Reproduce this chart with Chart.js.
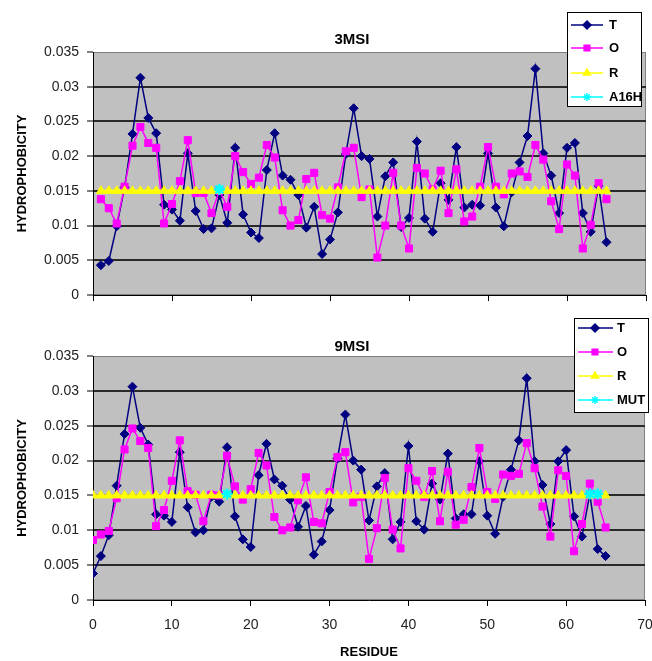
<!DOCTYPE html>
<html><head><meta charset="utf-8">
<script src="https://cdn.jsdelivr.net/npm/chart.js@4.4.0/dist/chart.umd.min.js"></script>
<style>
html,body{margin:0;padding:0;background:#fff;}
#wrap{position:relative;width:652px;height:661px;overflow:hidden;background:#fff;}
canvas{position:absolute;left:0;}
</style></head><body>
<div id="wrap">
<canvas id="c1" width="652" height="310" style="top:0;width:652px;height:310px"></canvas>
<canvas id="c2" width="652" height="351" style="top:310px;width:652px;height:351px"></canvas>
</div>
<script>
// ---------- data ----------
const residuesTop = [1,2,3,4,5,6,7,8,9,10,11,12,13,14,15,16,17,18,19,20,21,22,23,24,25,26,27,28,29,30,31,32,33,34,35,36,37,38,39,40,41,42,43,44,45,46,47,48,49,50,51,52,53,54,55,56,57,58,59,60,61,62,63,64,65];
const topT = [0.0043,0.0049,0.0099,0.0155,0.0232,0.0313,0.0255,0.0233,0.0130,0.0123,0.0107,0.0204,0.0121,0.0095,0.0096,0.0144,0.0104,0.0212,0.0116,0.0090,0.0082,0.0180,0.0233,0.0172,0.0166,0.0144,0.0097,0.0127,0.0059,0.0080,0.0119,0.0203,0.0269,0.0200,0.0196,0.0113,0.0171,0.0191,0.0098,0.0111,0.0221,0.0110,0.0091,0.0161,0.0137,0.0213,0.0126,0.0130,0.0129,0.0204,0.0126,0.0099,0.0148,0.0191,0.0229,0.0326,0.0204,0.0172,0.0118,0.0212,0.0219,0.0118,0.0091,0.0157,0.0076];
const topO = [0.0138,0.0125,0.0103,0.0156,0.0215,0.0242,0.0219,0.0212,0.0103,0.0131,0.0164,0.0223,0.0147,0.0147,0.0118,0.0150,0.0127,0.0200,0.0177,0.0160,0.0169,0.0216,0.0198,0.0122,0.0100,0.0108,0.0167,0.0176,0.0115,0.0110,0.0155,0.0207,0.0212,0.0141,0.0152,0.0054,0.0100,0.0176,0.0100,0.0067,0.0183,0.0175,0.0152,0.0179,0.0118,0.0181,0.0106,0.0113,0.0156,0.0213,0.0156,0.0145,0.0175,0.0178,0.0170,0.0216,0.0195,0.0135,0.0095,0.0188,0.0172,0.0067,0.0101,0.0161,0.0138];
const topR = [0.015,0.015,0.015,0.015,0.015,0.015,0.015,0.015,0.015,0.015,0.015,0.015,0.015,0.015,0.015,0.015,0.015,0.015,0.015,0.015,0.015,0.015,0.015,0.015,0.015,0.015,0.015,0.015,0.015,0.015,0.015,0.015,0.015,0.015,0.015,0.015,0.015,0.015,0.015,0.015,0.015,0.015,0.015,0.015,0.015,0.015,0.015,0.015,0.015,0.015,0.015,0.015,0.015,0.015,0.015,0.015,0.015,0.015,0.015,0.015,0.015,0.015,0.015,0.015,0.015];
const topMutResidues = [16];
const topMut = [0.0152];

const residuesBottom = [0,1,2,3,4,5,6,7,8,9,10,11,12,13,14,15,16,17,18,19,20,21,22,23,24,25,26,27,28,29,30,31,32,33,34,35,36,37,38,39,40,41,42,43,44,45,46,47,48,49,50,51,52,53,54,55,56,57,58,59,60,61,62,63,64,65];
const botT = [0.0038,0.0063,0.0093,0.0164,0.0238,0.0306,0.0247,0.0223,0.0123,0.0121,0.0112,0.0212,0.0133,0.0097,0.0100,0.0148,0.0141,0.0219,0.0120,0.0087,0.0076,0.0179,0.0224,0.0173,0.0164,0.0144,0.0105,0.0135,0.0065,0.0084,0.0129,0.0203,0.0266,0.0200,0.0187,0.0114,0.0163,0.0182,0.0087,0.0112,0.0221,0.0113,0.0101,0.0167,0.0144,0.0210,0.0117,0.0123,0.0123,0.0199,0.0121,0.0095,0.0148,0.0187,0.0229,0.0318,0.0199,0.0165,0.0109,0.0199,0.0215,0.0120,0.0091,0.0152,0.0073,0.0063];
const botO = [0.0086,0.0094,0.0099,0.0146,0.0216,0.0246,0.0228,0.0218,0.0106,0.0129,0.0171,0.0229,0.0156,0.0151,0.0113,0.0151,0.0150,0.0207,0.0163,0.0144,0.0159,0.0211,0.0193,0.0119,0.0100,0.0104,0.0143,0.0176,0.0112,0.0110,0.0155,0.0205,0.0212,0.0140,0.0148,0.0059,0.0103,0.0175,0.0101,0.0074,0.0189,0.0171,0.0148,0.0185,0.0113,0.0184,0.0108,0.0115,0.0162,0.0218,0.0155,0.0145,0.0180,0.0178,0.0181,0.0225,0.0189,0.0134,0.0091,0.0186,0.0178,0.0070,0.0109,0.0167,0.0141,0.0104];
const botR = [0.015,0.015,0.015,0.015,0.015,0.015,0.015,0.015,0.015,0.015,0.015,0.015,0.015,0.015,0.015,0.015,0.015,0.015,0.015,0.015,0.015,0.015,0.015,0.015,0.015,0.015,0.015,0.015,0.015,0.015,0.015,0.015,0.015,0.015,0.015,0.015,0.015,0.015,0.015,0.015,0.015,0.015,0.015,0.015,0.015,0.015,0.015,0.015,0.015,0.015,0.015,0.015,0.015,0.015,0.015,0.015,0.015,0.015,0.015,0.015,0.015,0.015,0.015,0.015,0.015,0.015];
const botMutResidues = [17,63,64];
const botMut = [0.0152,0.0152,0.0152];

const yTickValues = [0,0.005,0.01,0.015,0.02,0.025,0.03,0.035];
const yTickLabels = ['0','0.005','0.01','0.015','0.02','0.025','0.03','0.035'];
const xTickValues = [0,10,20,30,40,50,60,70];
const xTickLabels = ['0','10','20','30','40','50','60','70'];

const titleTop = '3MSI';
const titleBottom = '9MSI';
const legendTop = ['T','O','R','A16H'];
const legendBottom = ['T','O','R','MUT'];
const yTitle = 'HYDROPHOBICITY';
const xTitle = 'RESIDUE';

// ---------- styling ----------
const FONT = '"Liberation Sans", Arial, Helvetica, sans-serif';
Chart.defaults.font.family = FONT;
Chart.defaults.color = '#222';

const seriesStyle = [
  {color:'#000080', pointStyle:'rectRot', radius:4.5, lw:1.5, pbw:1, order:4},
  {color:'#ff00ff', pointStyle:'rect', radius:5, lw:1.5, pbw:1, order:3},
  {color:'#ffff00', pointStyle:'triangle', radius:5, lw:2.5, pbw:1, order:2},
  {color:'#00ffff', pointStyle:'star', radius:5.5, lw:1.5, pbw:2.5, order:1}
];

function pts(xs, ys){ return xs.map((x,i)=>({x:x, y:ys[i]})); }

function makeDatasets(names, seriesX, seriesY){
  return names.map((n,i)=>{
    const s = seriesStyle[i];
    return {
      label:n, data:pts(seriesX[i], seriesY[i]),
      borderColor:s.color, backgroundColor:s.color,
      borderWidth:s.lw, pointStyle:s.pointStyle, pointRadius:s.radius,
      pointBorderWidth:s.pbw, pointBorderColor:s.color, pointBackgroundColor:s.color,
      tension:0, order:s.order, showLine:true, fill:false,
      // only consecutive residues are joined
      segment:{ borderColor:(c)=> (c.p1.parsed.x - c.p0.parsed.x > 1) ? 'rgba(0,0,0,0)' : undefined }
    };
  });
}

const framePlugin = {
  id:'frame',
  beforeDraw(chart, args, o){
    const {ctx, chartArea:a} = chart;
    ctx.save();
    ctx.fillStyle = '#c0c0c0';
    ctx.fillRect(a.left, a.top, a.right-a.left, a.bottom-a.top);
    ctx.strokeStyle = '#808080'; ctx.lineWidth = 1;
    ctx.strokeRect(a.left+0.5, a.top+0.5, a.right-a.left-1, a.bottom-a.top-1);
    ctx.restore();
  },
  afterDraw(chart, args, o){
    const ctx = chart.ctx;
    ctx.save();
    ctx.fillStyle = '#000';
    ctx.font = 'bold 15px ' + FONT;
    ctx.textAlign = 'center'; ctx.textBaseline = 'middle';
    ctx.fillText(o.title, o.titleX, o.titleY);
    const L = o.legend;
    ctx.fillStyle = '#fff';
    ctx.fillRect(L.x, L.y, L.w, L.h);
    ctx.strokeStyle = '#000'; ctx.lineWidth = 1;
    ctx.strokeRect(L.x+0.5, L.y+0.5, L.w-1, L.h-1);
    chart.data.datasets.forEach((ds,i)=>{
      const s = seriesStyle[i];
      const y = L.rows[i];
      ctx.strokeStyle = s.color; ctx.lineWidth = 1.5;
      ctx.beginPath(); ctx.moveTo(L.lx1, y); ctx.lineTo(L.lx2, y); ctx.stroke();
      ctx.fillStyle = s.color; ctx.strokeStyle = s.color;
      Chart.helpers.drawPoint(ctx, {pointStyle:s.pointStyle, radius:4, rotation:0, borderWidth:1}, L.mx, y);
      ctx.fillStyle = '#000';
      ctx.font = 'bold 13px ' + FONT;
      ctx.textAlign = 'left'; ctx.textBaseline = 'middle';
      ctx.fillText(ds.label, L.tx, y+0.5);
    });
    ctx.restore();
  }
};

function zeroPad(s){ s.paddingLeft = 0; s.paddingRight = 0; s.paddingTop = 0; s.paddingBottom = 0; }

function makeChart(id, cfg){
  const yAxis = {
    type:'linear', min:0, max:0.035,
    afterBuildTicks:(s)=>{ s.ticks = yTickValues.map(v=>({value:v})); },
    afterFit:(s)=>{ s.width = 82; zeroPad(s); },
    ticks:{ callback:(v,i)=>yTickLabels[i], padding:8, font:{size:14}, color:'#222' },
    grid:{
      color:(c)=> (c.index===7 || c.index===0) ? 'rgba(0,0,0,0)' : '#2a2a2a',
      lineWidth:2, drawTicks:true, tickLength:6, tickColor:'#000', tickWidth:1
    },
    border:{display:true, color:'#000', width:1},
    title:{display:true, text:yTitle, font:{size:13, weight:'bold'}, color:'#000', padding:{top:4, bottom:0}}
  };
  const xAxis = {
    type:'linear', min:0, max:70,
    afterBuildTicks:(s)=>{ s.ticks = xTickValues.map(v=>({value:v})); },
    afterFit:(s)=>{ s.height = cfg.xHeight; zeroPad(s); },
    ticks:{ display:cfg.xLabels, callback:(v,i)=>xTickLabels[i], padding:11, font:{size:14}, color:'#222', maxRotation:0 },
    grid:{ display:true, drawOnChartArea:false, drawTicks:true, tickLength:6, tickColor:'#000', tickWidth:1, color:'#000' },
    border:{display:true, color:'#000', width:1},
    title:{display:cfg.xLabels, text:xTitle, font:{size:13, weight:'bold'}, color:'#000', padding:{top:0, bottom:1}}
  };
  return new Chart(document.getElementById(id), {
    type:'line',
    data:{ datasets: makeDatasets(cfg.names, cfg.xs, cfg.ys) },
    options:{
      responsive:false, animation:false, devicePixelRatio:1,
      layout:{ padding:cfg.padding, autoPadding:false },
      scales:{ x:xAxis, y:yAxis },
      plugins:{
        legend:{display:false}, tooltip:{enabled:false}, title:{display:false},
        frame:{ title:cfg.title, titleX:352, titleY:cfg.titleY, legend:cfg.legend }
      }
    },
    plugins:[framePlugin]
  });
}

makeChart('c1', {
  names:legendTop,
  xs:[residuesTop, residuesTop, residuesTop, topMutResidues],
  ys:[topT, topO, topR, topMut],
  xHeight:15, xLabels:false,
  padding:{left:11, right:6, top:52, bottom:0},
  title:titleTop, titleY:40,
  legend:{x:567, y:12, w:75, h:95, rows:[25,48,73,97], lx1:571, lx2:603, mx:587, tx:609}
});

makeChart('c2', {
  names:legendBottom,
  xs:[residuesBottom, residuesBottom, residuesBottom, botMutResidues],
  ys:[botT, botO, botR, botMut],
  xHeight:61, xLabels:true,
  padding:{left:11, right:7, top:46, bottom:0},
  title:titleBottom, titleY:37,
  legend:{x:574, y:8, w:75, h:95, rows:[18,42,66,90], lx1:578, lx2:613, mx:595, tx:617}
});
</script>
</body></html>
